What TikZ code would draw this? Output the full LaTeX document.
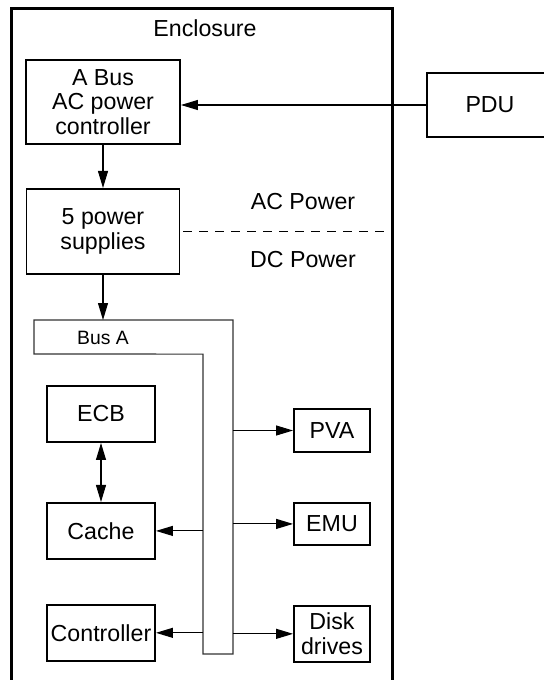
\documentclass[tikz,border=0pt]{standalone}
\usepackage{fontspec}
\setmainfont{Liberation Sans}
\usetikzlibrary{positioning,arrows.meta}

\begin{document}
\begin{tikzpicture}[x=0.02cm, y=-0.02cm,
    box/.style={draw, rectangle, line width=1.1pt, align=center, inner sep=1pt, font=\fontsize{13.2}{14}\selectfont},
    txt/.style={inner sep=0pt, font=\fontsize{13.2}{14}\selectfont},
    busbar/.style={rectangle, inner sep=0pt, outer sep=0pt},
    busline/.style={draw=black!80, line width=0.6pt},
    conn/.style={-{Triangle[length=0.34cm, width=0.2cm]}, line width=0.6pt},
    both/.style={{Triangle[length=0.34cm, width=0.2cm]}-{Triangle[length=0.34cm, width=0.2cm]}, line width=0.6pt}]
\useasboundingbox (0,0) rectangle (544,680);

% Enclosure
\node[draw, rectangle, line width=1.7pt, minimum width=7.64cm, minimum height=13.84cm] (encl) at (202,354) {};
\node[txt] (encltitle) at (205,28) {Enclosure};

% AC side
\node[box, minimum width=3.08cm, minimum height=1.68cm] (acctl) at (103,102) {A Bus\\AC power\\controller};
\node[box, minimum width=3.06cm, minimum height=1.7cm, below=0.86cm of acctl] (psu) {5 power\\supplies};
\node[box, minimum width=2.52cm, minimum height=1.28cm] (pdu) at (490,105) {PDU};

% Power labels
\node[txt] (acpow) at (303,202) {AC Power};
\node[txt] (dcpow) at (303,260) {DC Power};

% Bus A
\node[busbar, minimum width=3.98cm, minimum height=0.68cm] (busbar) at (133.5,337) {};
\node[busbar, minimum width=0.6cm, minimum height=6cm] (busstem) at (218,504) {};
\node[txt, font=\fontsize{11}{12}\selectfont] (buslabel) at (103,338) {Bus A};

% Left column
\node[box, minimum width=2.16cm, minimum height=1.12cm] (ecb) at (101,414) {ECB};
\node[box, minimum width=2.16cm, minimum height=1.12cm, below=1.18cm of ecb] (cache) {Cache};
\node[box, minimum width=2.16cm, minimum height=1.12cm, below=0.88cm of cache] (ctrl) {Controller};

% Right column
\node[box, minimum width=1.52cm, minimum height=0.86cm] (pva) at (332,430.5) {PVA};
\node[box, minimum width=1.52cm, minimum height=0.84cm, below=0.98cm of pva] (emu) {EMU};
\node[box, minimum width=1.52cm, minimum height=1.12cm, below=1.18cm of emu] (disk) {Disk\\drives};

% Bus outline
\draw[busline] (busbar.north west) -- (busbar.north east) -- (busstem.south east)
    -- (busstem.south west) -- (busstem.north west) -- (busbar.south west) -- cycle;

% AC/DC divider
\draw[dashed, dash pattern=on 0.17cm off 0.15cm, line width=1pt, shorten <=0.06cm, shorten >=0.12cm] (psu.east) -- (psu.east -| encl.east);

% Arrows
\draw[conn] (pdu.west) -- (pdu.west -| acctl.east);
\draw[conn] (acctl.south) -- (psu.north);
\draw[conn] (psu.south) -- (psu.south |- busbar.north);
\draw[both] (ecb) -- (cache);
\draw[conn] (busstem.west |- cache) -- (cache);
\draw[conn] (busstem.west |- ctrl) -- (ctrl);
\draw[conn] (busstem.east |- pva) -- (pva);
\draw[conn] (busstem.east |- emu) -- (emu);
\draw[conn] (busstem.east |- disk) -- (disk);

\end{tikzpicture}
\end{document}
